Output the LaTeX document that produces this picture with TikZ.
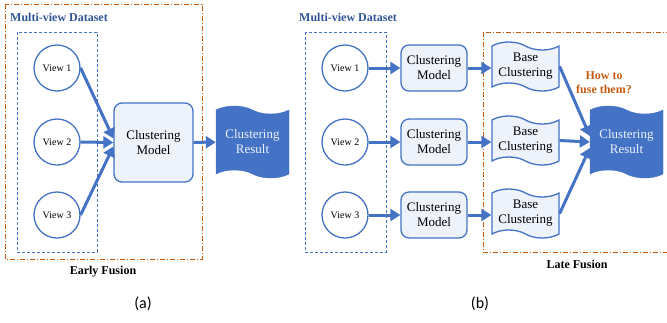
\documentclass[tikz,border=0pt]{standalone}
\usepackage{fontspec}
\setmainfont{Liberation Serif}
\newfontfamily\capfont{Carlito}
\usetikzlibrary{shapes.symbols,arrows.meta}

\definecolor{mvblue}{HTML}{4472C4}
\definecolor{mvfill}{HTML}{EDF2FB}
\definecolor{mvorange}{HTML}{C55A11}
\definecolor{mvtitle}{HTML}{2F5597}

\tikzset{
    viewnode/.style={circle, draw=mvblue, line width=1.3pt, fill=white, minimum size=46pt, inner sep=0pt, font=\fontsize{10}{11}\selectfont},
    modelbox/.style={draw=mvblue, line width=1.3pt, fill=mvfill, rounded corners=8pt, align=center, inner sep=0pt, font=\fontsize{13}{15}\selectfont},
    wavebox/.style={tape, tape bend top=out and in, tape bend bottom=out and in, tape bend height=8pt, align=center, inner sep=0pt, font=\fontsize{13}{15}\selectfont},
    basebox/.style={wavebox, draw=mvblue, line width=1.3pt, fill=mvfill, minimum width=67pt, minimum height=49pt},
    resultbox/.style={wavebox, draw=mvblue, fill=mvblue, text=mvfill, minimum width=73pt, minimum height=72pt},
    viewgroup/.style={draw=mvblue, line width=0.9pt, dash pattern=on 3pt off 2pt},
    fusegroup/.style={draw=mvorange, line width=0.9pt, dash pattern=on 5pt off 2pt on 1pt off 2pt},
    fusearrow/.style={draw=mvblue, line width=3pt, -{Triangle[length=10pt,width=12pt]}},
    grouptitle/.style={font=\bfseries\fontsize{12}{14}\selectfont},
}

\begin{document}
\begin{tikzpicture}[x=1pt,y=-1pt]
    \useasboundingbox (0,0) rectangle (667,322);

    % (a) early fusion
    \draw[fusegroup] (5,4) rectangle (202,259);
    \draw[viewgroup] (17,32) rectangle (97,252);
    \node[grouptitle, text=mvtitle] (titlea) at (59,17) {Multi-view Dataset};

    \node[viewnode] (v1a) at (57,68) {View 1};
    \node[viewnode] (v2a) at (57,142) {View 2};
    \node[viewnode] (v3a) at (57,215) {View 3};

    \node[modelbox, minimum width=79pt, minimum height=79pt] (modela) at (153.5,142.5) {Clustering\\Model};
    \node[resultbox] (resulta) at (252.5,142) {Clustering\\Result};

    \draw[fusearrow] (v1a.east) -- ([yshift=4pt]modela.west);
    \draw[fusearrow] (v2a.east) -- (modela.west);
    \draw[fusearrow] (v3a.east) -- ([yshift=-4pt]modela.west);
    \draw[fusearrow] (modela) -- (resulta);

    \node[grouptitle] (labela) at (103,272) {Early Fusion};
    \node[font=\capfont\fontsize{16}{18}\selectfont] (capa) at (143,304) {(a)};

    % (b) late fusion
    \draw[viewgroup] (305,32) rectangle (386,252);
    \draw[fusegroup] (483,32) rectangle (672,252);
    \node[grouptitle, text=mvtitle] (titleb) at (348,17) {Multi-view Dataset};

    \foreach \i/\y in {1/68,2/142,3/215} {
        \node[viewnode] (v\i b) at (345,\y) {View \i};
        \node[modelbox, minimum width=66pt, minimum height=46pt] (model\i b) at (434,\y) {Clustering\\Model};
        \node[basebox] (base\i b) at (525.5,\y-1.5) {Base\\Clustering};
        \draw[fusearrow] (v\i b) -- (model\i b);
        \draw[fusearrow] (model\i b) -- (base\i b.west |- model\i b);
    }

    \node[resultbox] (resultb) at (626.5,142) {Clustering\\Result};
    \draw[fusearrow] (base1b.east) -- ([yshift=6pt]resultb.west);
    \draw[fusearrow] (base2b.east) -- (resultb.west);
    \draw[fusearrow] (base3b.east) -- ([yshift=-6pt]resultb.west);

    \node[grouptitle, text=mvorange, align=center] (fuseq) at (604,83) {How to\\fuse them?};
    \node[grouptitle] (labelb) at (577,264) {Late Fusion};
    \node[font=\capfont\fontsize{16}{18}\selectfont] (capb) at (480,304) {(b)};
\end{tikzpicture}
\end{document}
